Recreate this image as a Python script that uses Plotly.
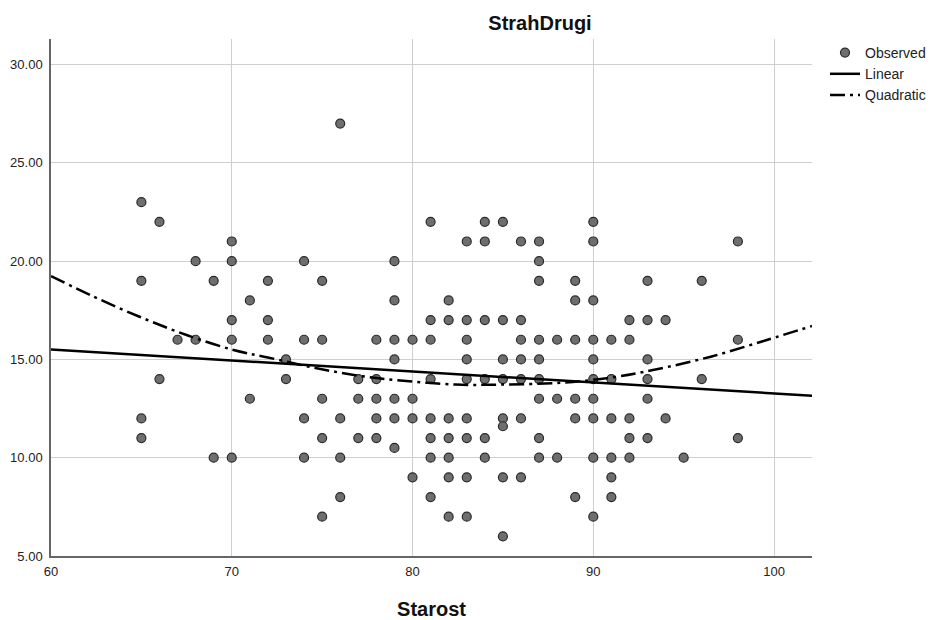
import plotly.graph_objects as go

# Observed cases: age (Starost) and score (StrahDrugi)
ages = (
    [65] * 4 + [66] * 2 + [67] + [68] * 2 + [69] * 2 + [70] * 5 + [71] * 2
    + [72] * 3 + [73] * 2 + [74] * 4 + [75] * 5 + [76] * 4 + [77] * 3
    + [78] * 5 + [79] * 7 + [80] * 4 + [81] * 8 + [82] * 7 + [83] * 9
    + [84] * 6 + [85] * 8 + [86] * 7 + [87] * 9 + [88] * 3 + [89] * 6
    + [90] * 10 + [91] * 6 + [92] * 5 + [93] * 6 + [94] * 2 + [95]
    + [96] * 2 + [98] * 3
)
scores = [
    23, 19, 12, 11,
    22, 14,
    16,
    20, 16,
    19, 10,
    21, 20, 17, 16, 10,
    18, 13,
    19, 17, 16,
    15, 14,
    20, 16, 12, 10,
    19, 16, 13, 11, 7,
    27, 12, 10, 8,
    14, 13, 11,
    16, 14, 13, 12, 11,
    20, 18, 16, 15, 13, 12, 10.5,
    16, 13, 12, 9,
    22, 17, 16, 14, 12, 11, 10, 8,
    18, 17, 12, 11, 10, 9, 7,
    21, 17, 16, 15, 14, 12, 11, 9, 7,
    22, 21, 17, 14, 11, 10,
    22, 17, 15, 14, 12, 11.6, 9, 6,
    21, 17, 16, 15, 14, 12, 9,
    21, 20, 19, 16, 15, 14, 13, 11, 10,
    16, 13, 10,
    19, 18, 16, 13, 12, 8,
    22, 21, 18, 16, 15, 14, 13, 12, 10, 7,
    16, 14, 12, 10, 9, 8,
    17, 16, 12, 11, 10,
    19, 17, 15, 14, 13, 11,
    17, 12,
    10,
    19, 14,
    21, 16, 11,
]

# Fitted curves
linear_x = [60.0, 102.1]
linear_y = [15.51, 13.15]

quad_x = [60.0, 62.3, 64.9, 67.5, 70.1, 72.0, 74.7, 77.1, 79.1, 82.4,
          84.8, 88.3, 91.1, 93.3, 96.5, 99.6, 102.1]
quad_y = [19.24, 18.22, 17.17, 16.24, 15.48, 15.10, 14.55, 14.16, 13.95, 13.72,
          13.72, 13.82, 14.09, 14.46, 15.14, 15.99, 16.70]

font_family = "Liberation Sans, Arial, sans-serif"

fig = go.Figure()
fig.add_trace(go.Scatter(
    x=ages, y=scores, mode="markers", name="Observed",
    marker=dict(size=9, color="#6e6e6e", line=dict(color="#2a2a2a", width=1.2)),
))
fig.add_trace(go.Scatter(
    x=linear_x, y=linear_y, mode="lines", name="Linear",
    line=dict(color="black", width=2.5),
))
fig.add_trace(go.Scatter(
    x=quad_x, y=quad_y, mode="lines", name="Quadratic",
    line=dict(color="black", width=2.5, dash="15px,5px,3px,5px", shape="spline"),
))

fig.update_layout(
    width=937, height=620,
    margin=dict(l=51, r=125, t=39, b=64),
    paper_bgcolor="white", plot_bgcolor="white",
    font=dict(family=font_family, size=13, color="#222222"),
    title=dict(
        text="<b>StrahDrugi</b>", x=540 / 937, xref="container", xanchor="center",
        y=1 - 23 / 620, yref="container", yanchor="middle",
        font=dict(size=20, color="#111111"),
    ),
    showlegend=True,
    legend=dict(
        xref="container", yref="container",
        x=825 / 937, xanchor="left", y=1 - 37 / 620, yanchor="top",
        font=dict(size=14, color="#222222"),
        itemwidth=30, tracegroupgap=0, bgcolor="rgba(0,0,0,0)",
    ),
)
fig.update_xaxes(
    range=[60, 102.1], tickvals=[60, 70, 80, 90, 100],
    showgrid=True, gridcolor="#cfcfcf", gridwidth=1,
    showline=True, linecolor="#666666", linewidth=1.5,
    zeroline=False, ticks="", tickfont=dict(size=13), ticklabelstandoff=3,
    automargin=False,
    title=dict(text="<b>Starost</b>", font=dict(size=20, color="#111111"), standoff=26),
)
fig.update_yaxes(
    range=[5, 31.3], tickvals=[5, 10, 15, 20, 25, 30], tickformat=".2f",
    showgrid=True, gridcolor="#cfcfcf", gridwidth=1,
    showline=True, linecolor="#666666", linewidth=1.5,
    zeroline=False, ticks="", tickfont=dict(size=13), ticklabelstandoff=4,
    automargin=False,
)

fig.write_html("out.html")
